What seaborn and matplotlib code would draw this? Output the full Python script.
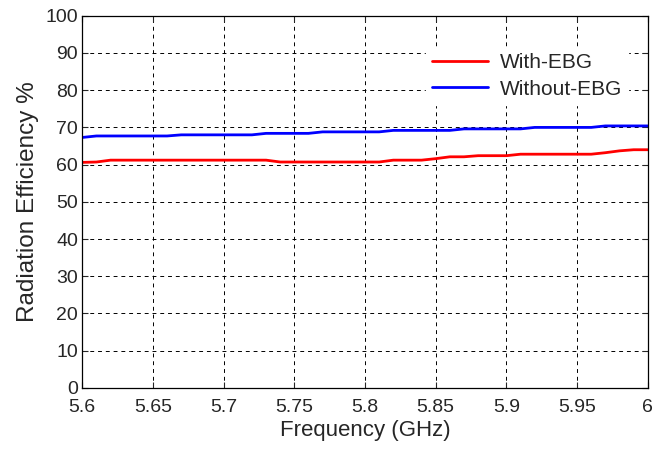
import numpy as np
import pandas as pd
import matplotlib
matplotlib.use("Agg")
import matplotlib.pyplot as plt
import seaborn as sns

sns.set_style("white")
plt.rcParams["font.family"] = ["Liberation Sans", "DejaVu Sans"]

# frequency sweep, 10 MHz steps
freq = [round(5.60 + 0.01 * i, 2) for i in range(41)]

with_ebg = [60.6, 60.7, 61.2, 61.2, 61.2, 61.2, 61.2, 61.2, 61.2, 61.2,
            61.2, 61.2, 61.2, 61.2, 60.7, 60.7, 60.7, 60.7, 60.7, 60.7,
            60.7, 60.7, 61.2, 61.2, 61.2, 61.6, 62.1, 62.1, 62.4, 62.4,
            62.4, 62.8, 62.8, 62.8, 62.8, 62.8, 62.8, 63.2, 63.7, 64.0,
            64.0]
without_ebg = [67.3, 67.7, 67.7, 67.7, 67.7, 67.7, 67.7, 68.0, 68.0, 68.0,
               68.0, 68.0, 68.0, 68.4, 68.4, 68.4, 68.4, 68.8, 68.8, 68.8,
               68.8, 68.8, 69.2, 69.2, 69.2, 69.2, 69.2, 69.6, 69.6, 69.6,
               69.6, 69.6, 70.0, 70.0, 70.0, 70.0, 70.0, 70.4, 70.4, 70.4,
               70.4]

series = ["With-EBG", "Without-EBG"]
colors = {"With-EBG": "#ff0000", "Without-EBG": "#0000ff"}

df = pd.DataFrame({
  "freq": freq * 2,
  "eff": with_ebg + without_ebg,
  "series": [series[0]] * len(freq) + [series[1]] * len(freq),
})

fig = plt.figure(figsize=(6.53, 4.51), dpi=100)
ax = fig.add_axes([0.126, 0.140, 0.866, 0.825])

sns.lineplot(data=df, x="freq", y="eff", hue="series", hue_order=series,
             palette=colors, linewidth=2, ax=ax)

ax.set_xlim(5.6, 6.0)
ax.set_ylim(0, 100)
ax.set_xticks([5.6, 5.65, 5.7, 5.75, 5.8, 5.85, 5.9, 5.95, 6.0])
ax.set_xticklabels(["5.6", "5.65", "5.7", "5.75", "5.8", "5.85", "5.9", "5.95", "6"])
ax.set_yticks(range(0, 101, 10))
ax.grid(True, color="black", linestyle=(0, (4, 4)), linewidth=0.7)
ax.tick_params(direction="in", length=4, width=0.8, labelsize=14,
               top=True, right=True, bottom=True, left=True, pad=3)
ax.tick_params(axis="x", pad=8)
for s in ax.spines.values():
  s.set_color("black")
  s.set_linewidth(0.9)

ax.set_xlabel("Frequency (GHz)", fontsize=16, labelpad=3)
ax.set_ylabel("Radiation Efficiency %", fontsize=17.5, labelpad=5)

leg = ax.legend(loc="upper right", bbox_to_anchor=(0.984, 0.944), fontsize=15,
                frameon=True, handlelength=2.7, handletextpad=0.55,
                labelspacing=0.35, borderpad=0.3)
leg.get_frame().set_facecolor("white")
leg.get_frame().set_edgecolor("white")
leg.get_frame().set_alpha(1)
leg.get_frame().set_boxstyle("square", pad=0)

fig.savefig("out.png", dpi=100)
